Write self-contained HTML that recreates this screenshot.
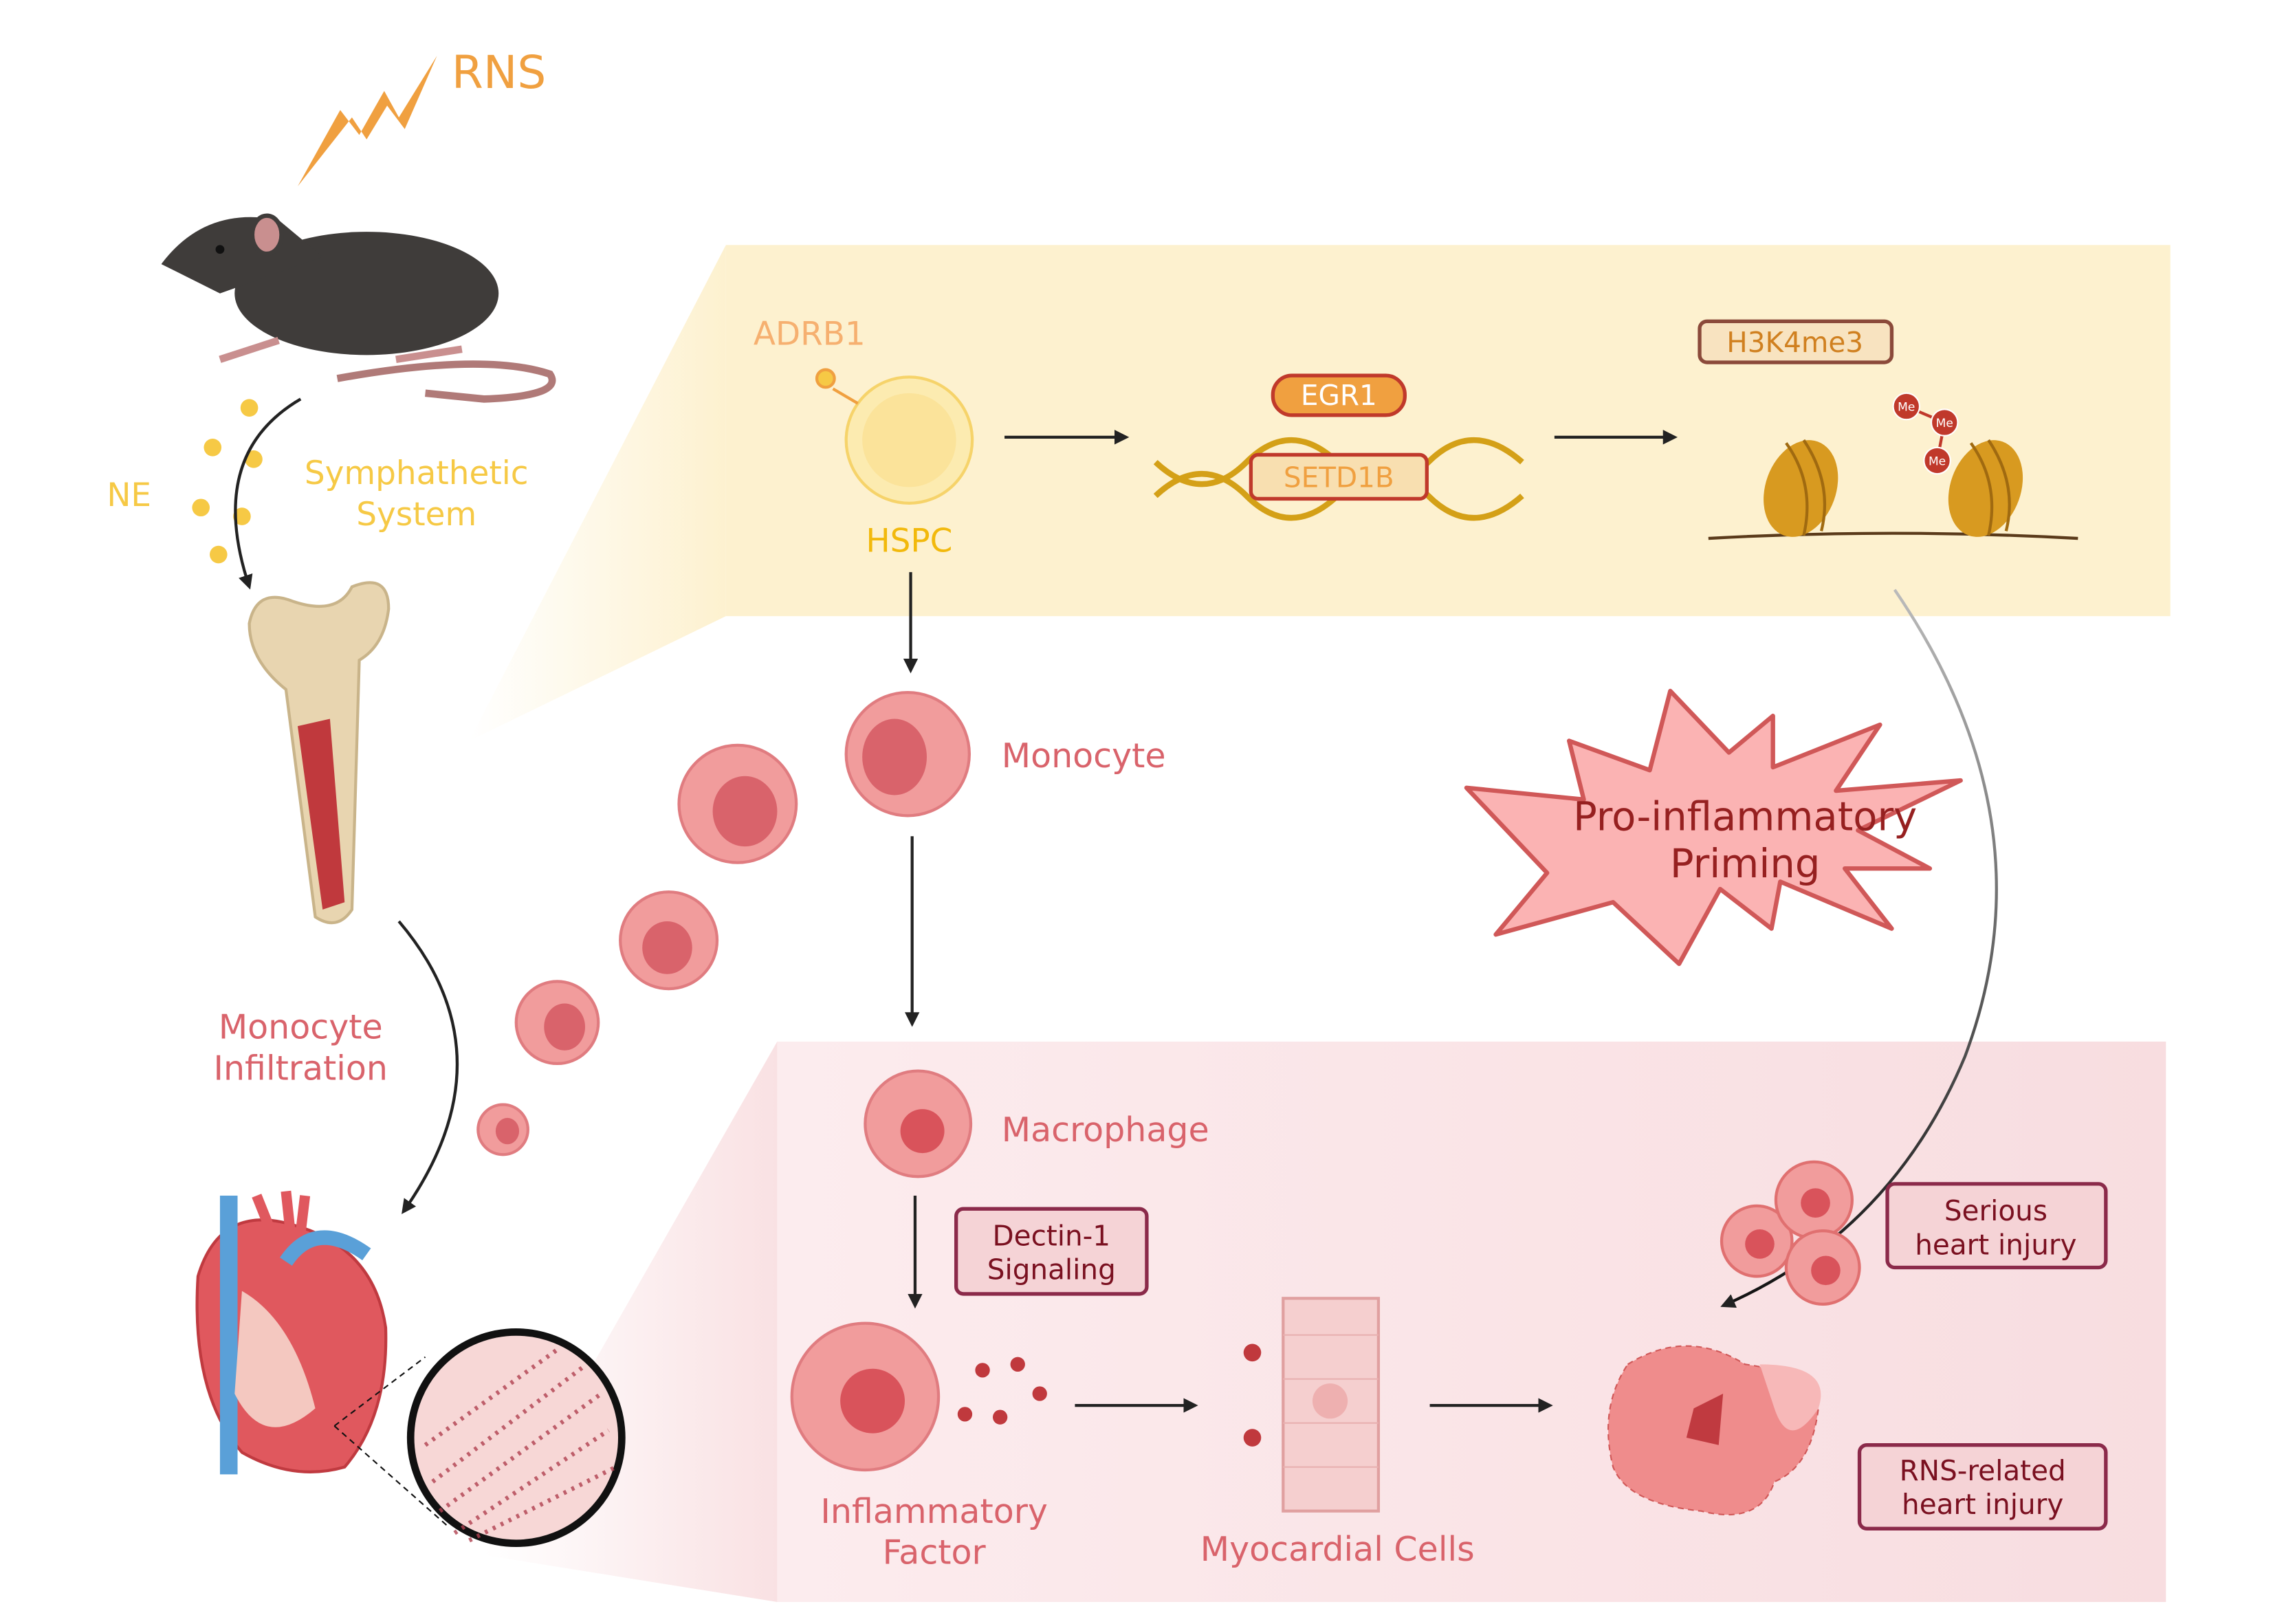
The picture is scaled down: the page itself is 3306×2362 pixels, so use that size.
<!DOCTYPE html>
<html><head><meta charset="utf-8"><style>
html,body{margin:0;padding:0;background:#fff;width:3306px;height:2362px;overflow:hidden}
svg{display:block}
text{font-family:"DejaVu Sans","Liberation Sans",sans-serif}
</style></head><body>
<svg width="3306" height="2362" viewBox="0 0 1550 1107" preserveAspectRatio="none" xmlns="http://www.w3.org/2000/svg">
<defs>
<linearGradient id="yf" x1="0" y1="0" x2="1" y2="0"><stop offset="0" stop-color="#fdf1cf" stop-opacity="0"/><stop offset="1" stop-color="#fdf1cf"/></linearGradient>
<linearGradient id="pf" x1="0" y1="0" x2="1" y2="0"><stop offset="0" stop-color="#f9e1e3" stop-opacity="0"/><stop offset="1" stop-color="#f9e1e3"/></linearGradient>
<linearGradient id="pb" x1="0" y1="0" x2="1" y2="0"><stop offset="0" stop-color="#fcecee"/><stop offset="1" stop-color="#f8dde0"/></linearGradient>
<linearGradient id="cg" x1="0" y1="0" x2="0" y2="1"><stop offset="0" stop-color="#bbb"/><stop offset="1" stop-color="#111"/></linearGradient>
<marker id="ar" markerWidth="10" markerHeight="10" refX="8" refY="5" orient="auto" markerUnits="userSpaceOnUse"><path d="M0,0 L10,5 L0,10 z" fill="#222"/></marker>
</defs>
<polygon points="320,505 495,167 495,420" fill="url(#yf)"/>
<rect x="495" y="167" width="985" height="253" fill="#fdf1cf"/>
<polygon points="330,1060 530,710 530,1092" fill="url(#pf)"/>
<rect x="530" y="710" width="947" height="382" fill="url(#pb)"/>

<polygon points="203,127 232,75 245,92 262,62 272,80 298,38 276,88 264,72 250,95 240,80" fill="#f0a040"/>
<text x="308" y="60" font-size="31" fill="#f0a040">RNS</text>

<ellipse cx="250" cy="200" rx="90" ry="42" fill="#3f3c3a"/>
<path d="M110,180 Q140,140 190,150 L220,175 L150,200 Z" fill="#3f3c3a"/>
<ellipse cx="182" cy="160" rx="10" ry="13" fill="#c98f8f" stroke="#3f3c3a" stroke-width="3"/>
<circle cx="150" cy="170" r="3" fill="#111"/>
<path d="M230,258 Q330,240 375,255 Q385,270 330,272 L290,268" fill="none" stroke="#b07a78" stroke-width="5"/>
<path d="M150,245 L190,232 M270,245 L315,238" stroke="#c98f8f" stroke-width="5"/>

<g fill="#f6c945"><circle cx="170" cy="278" r="6"/><circle cx="145" cy="305" r="6"/><circle cx="173" cy="313" r="6"/><circle cx="137" cy="346" r="6"/><circle cx="165" cy="352" r="6"/><circle cx="149" cy="378" r="6"/></g>
<text x="88" y="345" font-size="22" fill="#f6c945" text-anchor="middle">NE</text>
<text x="284" y="330" font-size="22" fill="#f6c945" text-anchor="middle">Symphathetic</text>
<text x="284" y="358" font-size="22" fill="#f6c945" text-anchor="middle">System</text>
<path d="M205,272 Q140,310 170,400" fill="none" stroke="#222" stroke-width="2" marker-end="url(#ar)"/>

<path d="M170,425 Q175,400 200,410 Q230,420 240,400 Q265,390 265,415 Q262,440 245,450 L240,620 Q230,635 215,625 L195,470 Q170,450 170,425Z" fill="#e8d5b0" stroke="#c9b48a" stroke-width="2"/>
<path d="M203,495 L225,490 L235,615 L220,620Z" fill="#c0393d"/>

<text x="205" y="708" font-size="23" fill="#d9636b" text-anchor="middle">Monocyte</text>
<text x="205" y="736" font-size="23" fill="#d9636b" text-anchor="middle">Infiltration</text>
<path d="M272,628 Q350,720 275,826" fill="none" stroke="#222" stroke-width="2" marker-end="url(#ar)"/>

<path d="M135,870 Q150,820 200,835 Q255,850 263,905 Q265,965 235,1000 Q200,1010 165,990 Q130,950 135,870Z" fill="#e0585e" stroke="#c03a40" stroke-width="2"/>
<rect x="150" y="815" width="12" height="190" fill="#5aa0d8"/>
<path d="M195,860 Q215,830 250,855" fill="none" stroke="#5aa0d8" stroke-width="10"/>
<path d="M175,815 L185,840 M195,812 L198,840 M208,815 L205,840" stroke="#e0585e" stroke-width="7"/>
<path d="M165,880 Q200,900 215,960 Q180,990 160,950Z" fill="#f4c8c0"/>
<circle cx="352" cy="980" r="72" fill="#f7d7d6" stroke="#111" stroke-width="5"/>
<g stroke="#b04050" stroke-width="3" stroke-dasharray="2 4" opacity=".8"><path d="M295,1010 L400,930"/><path d="M300,1030 L410,950"/><path d="M310,1045 L415,975"/><path d="M290,985 L380,920"/><path d="M320,1050 L420,1000"/></g>
<path d="M228,972 L290,925 M228,972 L305,1040" stroke="#111" stroke-dasharray="4 3"/>

<g fill="#f19c9c" stroke="#e07c80" stroke-width="2">
<circle cx="503" cy="548" r="40"/><circle cx="456" cy="641" r="33"/><circle cx="380" cy="697" r="28"/><circle cx="343" cy="770" r="17"/>
<circle cx="619" cy="514" r="42"/></g>
<g fill="#d9636b"><ellipse cx="508" cy="553" rx="22" ry="24"/><ellipse cx="455" cy="646" rx="17" ry="18"/><ellipse cx="385" cy="700" rx="14" ry="16"/><ellipse cx="346" cy="771" rx="8" ry="9"/><ellipse cx="610" cy="516" rx="22" ry="26"/></g>
<text x="683" y="523" font-size="23" fill="#d9636b">Monocyte</text>

<circle cx="620" cy="300" r="43" fill="#fcebb0" stroke="#f6d36a" stroke-width="2"/>
<circle cx="620" cy="300" r="32" fill="#fbe39a"/>
<circle cx="563" cy="258" r="6" fill="#f6c945" stroke="#f0a040" stroke-width="2"/>
<path d="M568,265 L585,275" stroke="#f0a040" stroke-width="2"/>
<text x="552" y="235" font-size="22" fill="#f6b070" text-anchor="middle">ADRB1</text>
<text x="620" y="376" font-size="22" fill="#f2b90c" text-anchor="middle">HSPC</text>

<g stroke="#222" stroke-width="2" fill="none" marker-end="url(#ar)">
<path d="M685,298 L768,298"/><path d="M1060,298 L1142,298"/><path d="M621,390 L621,457"/><path d="M622,570 L622,698"/><path d="M624,815 L624,890"/><path d="M733,958 L815,958"/><path d="M975,958 L1057,958"/>
</g>

<path d="M788,315 Q820,345 850,315 T912,315 T974,315 T1038,315" fill="none" stroke="#d4a017" stroke-width="4"/>
<path d="M788,338 Q820,308 850,338 T912,338 T974,338 T1038,338" fill="none" stroke="#d4a017" stroke-width="4"/>
<rect x="868" y="256" width="90" height="27" rx="13" fill="#f0a040" stroke="#c0392b" stroke-width="2.5"/>
<text x="913" y="276" font-size="19" fill="#fff" text-anchor="middle">EGR1</text>
<rect x="853" y="310" width="120" height="30" rx="5" fill="#f8dfb0" stroke="#c0392b" stroke-width="2.5"/>
<text x="913" y="332" font-size="19" fill="#f0a040" text-anchor="middle">SETD1B</text>

<rect x="1159" y="219" width="131" height="28" rx="5" fill="#f8e3c0" stroke="#8b4a3a" stroke-width="2.5"/>
<text x="1224" y="240" font-size="19" fill="#d08020" text-anchor="middle">H3K4me3</text>
<path d="M1165,367 Q1290,360 1417,367" fill="none" stroke="#5a3a1a" stroke-width="2"/>
<ellipse cx="1228" cy="333" rx="24" ry="34" fill="#d89a20" transform="rotate(20 1228 333)"/>
<ellipse cx="1354" cy="333" rx="24" ry="34" fill="#d89a20" transform="rotate(20 1354 333)"/>
<g stroke="#a06a10" stroke-width="2" fill="none"><path d="M1218,302 Q1238,330 1230,365 M1230,300 Q1250,330 1242,362 M1344,302 Q1364,330 1356,365 M1356,300 Q1376,330 1368,362"/></g>
<path d="M1300,277 L1326,288 L1321,314" stroke="#c0392b" stroke-width="2" fill="none"/>
<g fill="#c0392b" stroke="#fff"><circle cx="1300" cy="277" r="9"/><circle cx="1326" cy="288" r="9"/><circle cx="1321" cy="314" r="9"/></g>
<g font-size="8" fill="#fff" text-anchor="middle"><text x="1300" y="280">Me</text><text x="1326" y="291">Me</text><text x="1321" y="317">Me</text></g>

<polygon points="1139,471 1179,513 1209,488 1209,523 1282,494 1252,539 1337,532 1267,566 1316,592 1258,592 1290,633 1214,601 1208,633 1173,606 1145,657 1100,615 1020,637 1055,595 1000,537 1080,545 1070,505 1125,525" fill="#fbb3b3" stroke="#d05858" stroke-width="3" stroke-linejoin="round"/>
<text x="1190" y="566" font-size="27" fill="#962020" text-anchor="middle">Pro-inflammatory</text>
<text x="1190" y="598" font-size="27" fill="#962020" text-anchor="middle">Priming</text>
<path d="M1292,402 Q1400,560 1340,720 Q1290,840 1175,890" fill="none" stroke="url(#cg)" stroke-width="2" marker-end="url(#ar)"/>

<circle cx="626" cy="766" r="36" fill="#f19c9c" stroke="#e07c80" stroke-width="2"/>
<circle cx="629" cy="771" r="15" fill="#d9535b"/>
<text x="683" y="778" font-size="23" fill="#d9636b">Macrophage</text>
<rect x="652" y="824" width="130" height="58" rx="5" fill="#f5d3d6" stroke="#8b2a4a" stroke-width="2.5"/>
<text x="717" y="849" font-size="19" fill="#7a1020" text-anchor="middle">Dectin-1</text>
<text x="717" y="872" font-size="19" fill="#7a1020" text-anchor="middle">Signaling</text>
<circle cx="590" cy="952" r="50" fill="#f19c9c" stroke="#e07c80" stroke-width="2"/>
<circle cx="595" cy="955" r="22" fill="#d9535b"/>
<g fill="#c0393d"><circle cx="670" cy="934" r="5"/><circle cx="694" cy="930" r="5"/><circle cx="709" cy="950" r="5"/><circle cx="658" cy="964" r="5"/><circle cx="682" cy="966" r="5"/></g>
<text x="637" y="1038" font-size="23" fill="#d9636b" text-anchor="middle">Inflammatory</text>
<text x="637" y="1066" font-size="23" fill="#d9636b" text-anchor="middle">Factor</text>

<rect x="875" y="885" width="65" height="145" fill="#f5cfcf" stroke="#e0a0a0" stroke-width="2"/>
<g stroke="#e8b0b0" stroke-width="1"><path d="M875,910 H940 M875,940 H940 M875,970 H940 M875,1000 H940"/></g>
<circle cx="907" cy="955" r="12" fill="#eeb0b0"/>
<circle cx="854" cy="922" r="6" fill="#c0393d"/><circle cx="854" cy="980" r="6" fill="#c0393d"/>
<text x="912" y="1064" font-size="23" fill="#d9636b" text-anchor="middle">Myocardial Cells</text>

<path d="M1110,930 Q1150,905 1190,930 Q1230,935 1240,960 Q1235,1000 1210,1010 Q1200,1040 1160,1030 Q1110,1025 1100,1000 Q1090,960 1110,930Z" fill="#ef8c8c" stroke="#d05858" stroke-dasharray="4 3"/>
<path d="M1200,930 Q1250,930 1240,960 Q1220,990 1210,960Z" fill="#f7b8b8"/>
<path d="M1155,960 L1175,950 L1172,985 L1150,980Z" fill="#c03a40"/>

<g fill="#f19c9c" stroke="#e07070" stroke-width="2"><circle cx="1198" cy="846" r="24"/><circle cx="1237" cy="818" r="26"/><circle cx="1243" cy="864" r="25"/></g>
<g fill="#d9535b"><circle cx="1200" cy="848" r="10"/><circle cx="1238" cy="820" r="10"/><circle cx="1245" cy="866" r="10"/></g>
<rect x="1287" y="807" width="149" height="57" rx="5" fill="#f5d3d6" stroke="#8b2a4a" stroke-width="2.5"/>
<text x="1361" y="832" font-size="19" fill="#7a1020" text-anchor="middle">Serious</text>
<text x="1361" y="855" font-size="19" fill="#7a1020" text-anchor="middle">heart injury</text>
<rect x="1268" y="985" width="168" height="57" rx="5" fill="#f5d3d6" stroke="#8b2a4a" stroke-width="2.5"/>
<text x="1352" y="1009" font-size="19" fill="#7a1020" text-anchor="middle">RNS-related</text>
<text x="1352" y="1032" font-size="19" fill="#7a1020" text-anchor="middle">heart injury</text>
</svg>
</body></html>
